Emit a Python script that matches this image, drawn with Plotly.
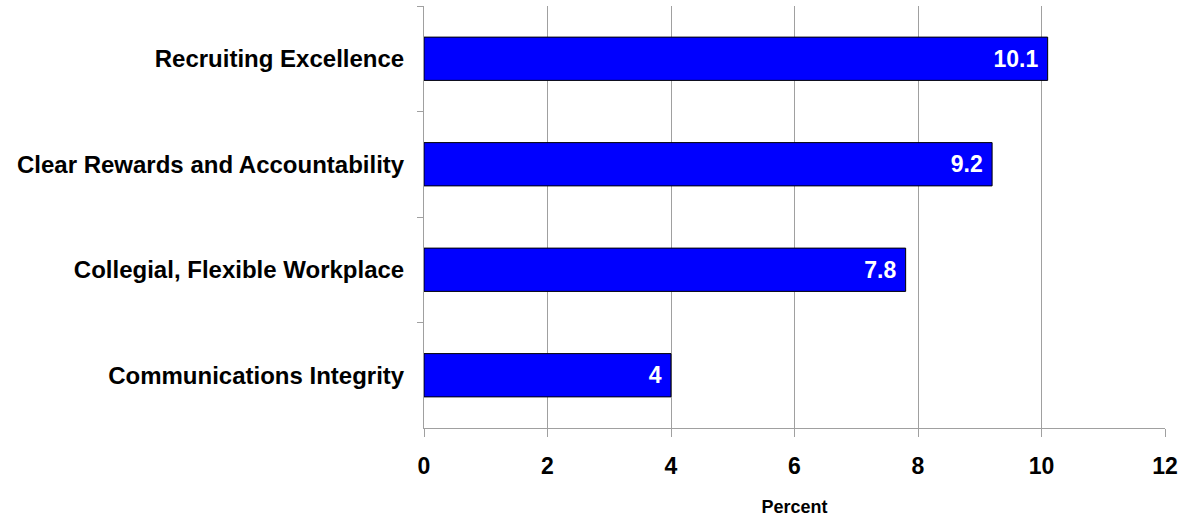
import plotly.graph_objects as go

categories = [
    "Recruiting Excellence",
    "Clear Rewards and Accountability",
    "Collegial, Flexible Workplace",
    "Communications Integrity",
]
values = [10.1, 9.2, 7.8, 4]
x_ticks = [0, 2, 4, 6, 8, 10, 12]

FONT = "Liberation Sans, Arial"

fig = go.Figure(
    go.Bar(
        x=values,
        y=categories,
        orientation="h",
        width=0.41,
        marker=dict(color="#0000FF", line=dict(color="black", width=1)),
        # trailing no-break space keeps the value a little inside the bar end
        text=[f"{v:g}\u00a0" for v in values],
        textposition="inside",
        insidetextanchor="end",
        constraintext="none",
        textfont=dict(family=FONT, size=23, color="white", weight="bold"),
        cliponaxis=False,
    )
)

fig.update_layout(
    width=1184,
    height=519,
    margin=dict(l=424, r=18, t=6, b=87),
    plot_bgcolor="white",
    paper_bgcolor="white",
    showlegend=False,
    font=dict(family=FONT, color="black"),
)

fig.update_xaxes(
    range=[0, 12],
    tickvals=x_ticks,
    showgrid=True,
    gridcolor="#a0a0a0",
    gridwidth=1,
    showline=True,
    linecolor="#a0a0a0",
    linewidth=1,
    ticks="outside",
    ticklen=8,
    tickcolor="#a0a0a0",
    tickfont=dict(size=23, weight="bold"),
    ticklabelstandoff=9,
    title=dict(text="Percent", font=dict(size=18, weight="bold"), standoff=22),
    zeroline=False,
)

fig.update_yaxes(
    autorange="reversed",
    showline=True,
    linecolor="#a0a0a0",
    linewidth=1,
    ticks="outside",
    tickson="boundaries",
    ticklen=6,
    tickcolor="#a0a0a0",
    tickfont=dict(size=24, weight="bold"),
    ticklabelstandoff=14,
    showgrid=False,
)

fig.write_html("out.html")
